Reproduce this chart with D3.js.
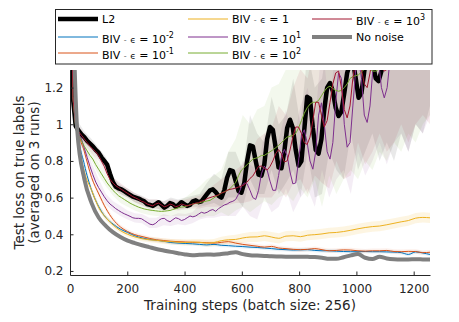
<!DOCTYPE html>
<html><head><meta charset="utf-8">
<script src="https://cdn.jsdelivr.net/npm/d3@7"></script>
<style>body{margin:0;background:#fff}svg{display:block;font-family:"DejaVu Sans",sans-serif}</style>
</head><body><svg id="c" width="459" height="322"></svg>
<script>
// ---------------- data ----------------
const xMax = 1257;                       // last training step shown
const stepsFine = d3.range(127).map(i => i * xMax / 126);    // ~10-step grid
const stepsCoarse = d3.range(51).map(i => i * xMax / 50);    // ~25-step grid

const yTicks = [0.2, 0.4, 0.6, 0.8, 1, 1.2];
const xTicks = [0, 200, 400, 600, 800, 1000, 1200];

// oscillating series (fine grid)
const l2 = [2.30,1.15,0.99,0.965,0.945,0.93,0.91,0.895,0.88,0.86,
 0.845,0.82,0.80,0.78,0.73,0.685,0.66,0.65,0.645,0.635,
 0.625,0.615,0.605,0.60,0.595,0.587,0.58,0.565,0.56,0.555,
 0.565,0.575,0.56,0.545,0.555,0.57,0.565,0.55,0.56,0.575,
 0.565,0.555,0.56,0.58,0.585,0.575,0.58,0.60,0.62,0.64,
 0.645,0.63,0.61,0.60,0.64,0.71,0.75,0.745,0.69,0.635,
 0.627,0.68,0.80,0.885,0.88,0.80,0.725,0.72,0.78,0.92,
 0.985,0.97,0.87,0.765,0.76,0.85,0.98,1.025,0.98,0.86,
 0.775,0.80,0.97,1.15,1.14,0.98,0.86,0.84,0.92,1.08,
 1.20,1.225,1.18,1.09,1.045,1.07,1.17,1.28,1.33,1.35,
 1.25,1.145,1.17,1.29,1.38,1.40,1.33,1.25,1.235,1.29,
 1.40,1.48,1.45,1.38,1.35,1.40,1.50,1.55,1.50,1.42,
 1.40,1.45,1.55,1.60,1.55,1.48,1.45];
const biv1e3 = [2.30,1.15,0.99,0.96,0.94,0.92,0.90,0.88,0.865,0.85,
 0.83,0.80,0.77,0.73,0.70,0.68,0.665,0.655,0.645,0.635,
 0.625,0.615,0.605,0.598,0.59,0.58,0.575,0.565,0.56,0.555,
 0.565,0.57,0.56,0.55,0.555,0.565,0.56,0.55,0.555,0.565,
 0.56,0.555,0.56,0.565,0.57,0.572,0.58,0.585,0.595,0.60,
 0.605,0.61,0.615,0.625,0.63,0.64,0.645,0.648,0.652,0.658,
 0.663,0.67,0.685,0.705,0.718,0.745,0.77,0.772,0.76,0.75,
 0.77,0.80,0.84,0.862,0.84,0.795,0.80,0.86,0.93,0.985,
 0.985,0.95,0.90,0.89,0.93,1.02,1.12,1.12,1.05,0.985,
 1.02,1.12,1.22,1.28,1.29,1.20,1.08,1.035,1.10,1.25,
 1.35,1.36,1.30,1.22,1.20,1.28,1.38,1.42,1.38,1.32,
 1.29,1.30,1.40,1.50,1.52,1.50,1.55,1.58,1.55,1.55,
 1.58,1.60,1.58,1.55,1.58,1.60,1.60];
const biv1e2 = [2.30,1.15,0.98,0.94,0.91,0.88,0.855,0.83,0.81,0.78,
 0.755,0.73,0.705,0.68,0.66,0.64,0.625,0.61,0.60,0.59,
 0.58,0.57,0.562,0.555,0.548,0.543,0.538,0.535,0.532,0.53,
 0.528,0.526,0.525,0.526,0.528,0.53,0.535,0.54,0.545,0.548,
 0.55,0.555,0.56,0.565,0.568,0.57,0.575,0.578,0.582,0.585,
 0.595,0.605,0.615,0.625,0.632,0.638,0.65,0.665,0.683,0.72,
 0.75,0.765,0.78,0.795,0.81,0.815,0.82,0.83,0.83,0.84,
 0.85,0.86,0.872,0.885,0.90,0.915,0.93,0.935,0.94,0.95,
 0.98,1.02,1.06,1.09,1.11,1.12,1.12,1.13,1.155,1.18,
 1.20,1.208,1.195,1.185,1.18,1.185,1.20,1.22,1.25,1.26,
 1.265,1.27,1.285,1.30,1.31,1.30,1.29,1.29,1.30,1.32,
 1.36,1.40,1.42,1.45,1.45,1.48,1.50,1.50,1.52,1.55,
 1.55,1.56,1.58,1.58,1.60,1.60,1.60];
const biv1e1 = [2.30,1.15,0.99,0.95,0.92,0.87,0.82,0.77,0.725,0.685,
 0.655,0.63,0.605,0.583,0.565,0.553,0.54,0.53,0.52,0.512,
 0.505,0.498,0.49,0.487,0.487,0.485,0.475,0.465,0.455,0.452,
 0.46,0.475,0.485,0.487,0.475,0.468,0.48,0.49,0.485,0.475,
 0.48,0.49,0.50,0.495,0.50,0.51,0.52,0.515,0.52,0.53,
 0.535,0.525,0.54,0.55,0.56,0.565,0.575,0.58,0.59,0.62,
 0.66,0.68,0.675,0.64,0.60,0.59,0.64,0.73,0.772,0.75,
 0.69,0.64,0.64,0.72,0.82,0.863,0.83,0.74,0.675,0.68,
 0.80,0.94,0.97,0.90,0.80,0.755,0.85,1.05,1.117,1.00,
 0.85,0.81,0.90,1.12,1.28,1.25,1.00,0.875,0.90,1.10,
 1.30,1.36,1.25,1.05,1.01,1.10,1.30,1.40,1.35,1.20,
 1.144,1.20,1.35,1.45,1.45,1.40,1.45,1.55,1.55,1.50,
 1.50,1.55,1.60,1.60,1.58,1.60,1.60];

// band limits of the oscillating series (coarse grid)
const l2Low = [2.2,0.95,0.9,0.86,0.81,0.75,0.65,0.62,0.6,0.575,0.56,0.54,0.54,0.53,0.54,0.535,0.54,0.55,0.55,0.56,
 0.57,0.55,0.6,0.6,0.55,0.7,0.62,0.62,0.75,0.62,0.68,0.75,0.6,0.85,0.6,0.62,0.85,0.75,0.7,0.95,
 0.75,0.85,0.95,0.8,0.9,0.8,0.95,0.85,1.0,0.95,1.1];
const l2High = [2.4,1.02,0.96,0.92,0.87,0.82,0.71,0.67,0.65,0.625,0.61,0.59,0.59,0.58,0.6,0.59,0.6,0.61,0.62,0.68,
 0.73,0.7,0.85,0.85,0.75,1.05,0.95,0.9,1.15,1.0,1.05,1.25,1.0,1.4,1.2,1.25,1.5,1.4,1.45,1.6,
 1.5,1.6,1.7,1.65,1.7,1.7,1.8,1.8,1.9,1.9,1.9];
const e3Low = [2.2,0.94,0.89,0.84,0.8,0.72,0.65,0.62,0.6,0.575,0.555,0.54,0.54,0.53,0.535,0.53,0.535,0.54,0.54,0.55,
 0.55,0.55,0.56,0.57,0.57,0.58,0.6,0.6,0.6,0.65,0.6,0.68,0.7,0.62,0.72,0.68,0.65,0.8,0.7,0.72,
 0.9,0.78,0.85,0.95,0.85,0.9,1.0,0.9,1.0,1.05,1.0];
const e3High = [2.4,1.0,0.95,0.9,0.86,0.78,0.71,0.68,0.65,0.625,0.605,0.59,0.59,0.58,0.59,0.585,0.59,0.6,0.61,0.64,
 0.67,0.7,0.73,0.75,0.78,0.84,0.92,0.95,0.98,1.1,1.05,1.2,1.3,1.25,1.45,1.4,1.45,1.6,1.55,1.6,
 1.7,1.7,1.75,1.8,1.8,1.85,1.9,1.9,1.9,1.95,1.95];
const e2Low = [2.2,0.93,0.85,0.8,0.72,0.66,0.61,0.57,0.55,0.53,0.515,0.505,0.5,0.5,0.5,0.5,0.5,0.5,0.49,0.5,
 0.5,0.52,0.5,0.53,0.55,0.52,0.55,0.58,0.56,0.6,0.62,0.58,0.65,0.6,0.7,0.55,0.72,0.62,0.7,0.75,
 0.7,0.8,0.75,0.85,0.8,0.9,0.85,0.95,0.9,1.0,1.05];
const e2High = [2.4,0.99,0.91,0.86,0.79,0.72,0.67,0.63,0.61,0.59,0.575,0.565,0.56,0.555,0.56,0.58,0.6,0.63,0.66,0.7,
 0.72,0.75,0.85,0.92,1.05,1.0,1.08,1.1,1.2,1.22,1.3,1.35,1.4,1.45,1.5,1.5,1.55,1.55,1.6,1.6,
 1.6,1.7,1.7,1.75,1.75,1.8,1.8,1.85,1.85,1.9,1.9];
const e1Low = [2.2,0.93,0.84,0.73,0.64,0.56,0.525,0.5,0.48,0.465,0.46,0.435,0.435,0.45,0.445,0.455,0.45,0.46,0.48,0.49,
 0.49,0.5,0.5,0.5,0.55,0.5,0.48,0.6,0.52,0.55,0.65,0.52,0.6,0.65,0.55,0.75,0.6,0.7,0.75,0.62,
 0.85,0.72,0.8,0.9,0.78,0.9,0.95,0.85,1.0,0.95,1.05];
const e1High = [2.4,1.0,0.9,0.79,0.7,0.62,0.58,0.555,0.53,0.515,0.51,0.49,0.49,0.51,0.5,0.515,0.51,0.52,0.56,0.58,
 0.6,0.62,0.66,0.7,0.8,0.78,0.75,0.95,0.88,0.92,1.08,0.9,1.1,1.2,1.0,1.45,1.1,1.45,1.55,1.25,
 1.7,1.4,1.6,1.75,1.5,1.8,1.85,1.8,1.9,1.9,1.95];

// smooth series (coarse grid)
const noNoise = [2.30,0.97,0.70,0.57,0.49,0.445,0.41,0.385,0.365,0.352,
 0.34,0.33,0.32,0.312,0.304,0.297,0.29,0.286,0.288,0.29,
 0.289,0.292,0.297,0.302,0.292,0.286,0.284,0.282,0.28,0.279,
 0.278,0.278,0.278,0.277,0.276,0.272,0.266,0.266,0.275,0.285,
 0.292,0.272,0.265,0.278,0.268,0.264,0.263,0.263,0.264,0.263,0.262];
const biv1em2 = [2.30,0.99,0.78,0.64,0.55,0.49,0.455,0.428,0.41,0.392,
 0.38,0.372,0.368,0.362,0.355,0.352,0.35,0.348,0.345,0.342,
 0.345,0.34,0.338,0.335,0.333,0.33,0.328,0.325,0.322,0.318,
 0.316,0.314,0.315,0.316,0.312,0.31,0.31,0.308,0.306,0.305,
 0.305,0.306,0.305,0.305,0.304,0.303,0.30,0.29,0.304,0.298,0.29];
const biv1em1 = [2.30,1.00,0.85,0.71,0.62,0.54,0.48,0.44,0.415,0.398,
 0.388,0.378,0.37,0.366,0.362,0.36,0.358,0.356,0.356,0.354,
 0.352,0.356,0.36,0.352,0.345,0.34,0.335,0.33,0.334,0.325,
 0.322,0.318,0.316,0.318,0.322,0.316,0.31,0.312,0.315,0.314,
 0.31,0.308,0.31,0.31,0.312,0.306,0.305,0.307,0.306,0.30,0.302];
const biv1 = [2.30,0.95,0.74,0.64,0.545,0.49,0.45,0.42,0.40,0.386,
 0.376,0.37,0.367,0.362,0.36,0.357,0.355,0.358,0.356,0.352,
 0.355,0.365,0.37,0.372,0.38,0.385,0.386,0.392,0.385,0.378,
 0.39,0.392,0.387,0.395,0.398,0.402,0.408,0.41,0.415,0.422,
 0.43,0.437,0.442,0.445,0.452,0.46,0.468,0.475,0.488,0.492,0.49];
const noNoiseStd = [0.05,0.02,0.015,0.012,0.01,0.009,0.008,0.008,0.007,0.007,
 0.007,0.007,0.007,0.007,0.007,0.007,0.007,0.007,0.007,0.007,
 0.007,0.007,0.007,0.007,0.007,0.007,0.007,0.007,0.007,0.007,
 0.007,0.007,0.007,0.007,0.007,0.007,0.007,0.007,0.007,0.007,
 0.007,0.007,0.007,0.007,0.007,0.007,0.007,0.007,0.007,0.007,0.007];
const em2Std = [0.05,0.02,0.018,0.015,0.013,0.012,0.011,0.01,0.01,0.01,
 0.01,0.01,0.01,0.01,0.01,0.01,0.01,0.01,0.01,0.01,
 0.01,0.01,0.01,0.01,0.01,0.01,0.01,0.01,0.01,0.01,
 0.01,0.01,0.01,0.01,0.01,0.01,0.01,0.01,0.01,0.01,
 0.01,0.01,0.01,0.01,0.01,0.01,0.01,0.01,0.01,0.01,0.01];
const em1Std = [0.05,0.02,0.02,0.018,0.016,0.014,0.013,0.012,0.012,0.012,
 0.012,0.012,0.012,0.012,0.012,0.012,0.012,0.012,0.012,0.012,
 0.012,0.012,0.012,0.012,0.012,0.012,0.012,0.012,0.012,0.012,
 0.012,0.012,0.012,0.012,0.012,0.012,0.012,0.012,0.012,0.012,
 0.012,0.012,0.012,0.012,0.012,0.012,0.012,0.012,0.012,0.012,0.012];
const e0Std = [0.05,0.02,0.02,0.018,0.016,0.015,0.014,0.014,0.014,0.014,
 0.014,0.014,0.015,0.015,0.015,0.016,0.016,0.017,0.018,0.02,
 0.02,0.022,0.024,0.025,0.026,0.027,0.028,0.028,0.028,0.028,
 0.028,0.028,0.028,0.028,0.028,0.028,0.028,0.028,0.028,0.028,
 0.028,0.028,0.028,0.028,0.028,0.028,0.028,0.028,0.028,0.028,0.028];

const seriesNames = ["L2","BIV - ϵ = 10^-2","BIV - ϵ = 10^-1","BIV - ϵ = 1","BIV - ϵ = 10^1","BIV - ϵ = 10^2","BIV - ϵ = 10^3","No noise"];
const seriesColors = ["#000000","#0072BD","#D95319","#EDB120","#7E2F8E","#77AC30","#A2142F","#808080"];
const seriesWidths = [4.5,1,1,1,1,1,1,4];

const series = [
  {name:seriesNames[0], xs:stepsFine, ys:l2, bx:stepsCoarse, lo:l2Low, hi:l2High},
  {name:seriesNames[1], xs:stepsCoarse, ys:biv1em2, bx:stepsCoarse, lo:biv1em2.map((v,i)=>v-em2Std[i]), hi:biv1em2.map((v,i)=>v+em2Std[i])},
  {name:seriesNames[2], xs:stepsCoarse, ys:biv1em1, bx:stepsCoarse, lo:biv1em1.map((v,i)=>v-em1Std[i]), hi:biv1em1.map((v,i)=>v+em1Std[i])},
  {name:seriesNames[3], xs:stepsCoarse, ys:biv1, bx:stepsCoarse, lo:biv1.map((v,i)=>v-e0Std[i]), hi:biv1.map((v,i)=>v+e0Std[i])},
  {name:seriesNames[4], xs:stepsFine, ys:biv1e1, bx:stepsCoarse, lo:e1Low, hi:e1High},
  {name:seriesNames[5], xs:stepsFine, ys:biv1e2, bx:stepsCoarse, lo:e2Low, hi:e2High},
  {name:seriesNames[6], xs:stepsFine, ys:biv1e3, bx:stepsCoarse, lo:e3Low, hi:e3High},
  {name:seriesNames[7], xs:stepsCoarse, ys:noNoise, bx:stepsCoarse, lo:noNoise.map((v,i)=>v-noNoiseStd[i]), hi:noNoise.map((v,i)=>v+noNoiseStd[i])}
];
series.forEach((s,i)=>{s.color=seriesColors[i]; s.width=seriesWidths[i];});

// ---------------- drawing ----------------
const svg = d3.select("#c");
const axisColor = "#262626";
const x = d3.scaleLinear().domain([0, xMax]).range([70, 430]);
const y = d3.scaleLinear().domain([0.178, 1.296]).range([275, 70]);

svg.append("defs").append("clipPath").attr("id","clip")
  .append("rect").attr("x",70).attr("y",70).attr("width",360).attr("height",205);
const plot = svg.append("g").attr("clip-path","url(#clip)");

const area = d3.area().x(d=>x(d[0])).y0(d=>y(d[1])).y1(d=>y(d[2]));
const line = d3.line().x(d=>x(d[0])).y(d=>y(d[1]));

series.forEach(s=>{
  plot.append("path")
    .attr("d", area(s.bx.map((t,i)=>[t,s.lo[i],s.hi[i]])))
    .attr("fill", s.color).attr("fill-opacity", s.color==="#EDB120"?0.13:0.085).attr("stroke","none");
});
series.forEach(s=>{
  const lg = s.xs.length>60 ? line.curve(d3.curveLinear) : line.curve(d3.curveMonotoneX);
  plot.append("path")
    .attr("d", lg(s.xs.map((t,i)=>[t,s.ys[i]])))
    .attr("fill","none").attr("stroke", s.color).attr("stroke-width", s.width)
    .attr("stroke-linejoin","round").attr("stroke-linecap","round");
});

// axes
const yAxis = d3.axisLeft(y).tickValues(yTicks).tickSize(-3.5).tickSizeOuter(0).tickPadding(6.5)
  .tickFormat(d=>String(+d.toFixed(1)));
const xAxis = d3.axisBottom(x).tickValues(xTicks).tickSize(-3.5).tickSizeOuter(0).tickPadding(9)
  .tickFormat(d=>String(d));
const gy = svg.append("g").attr("transform","translate(70,0)").call(yAxis);
const gx = svg.append("g").attr("transform","translate(0,275)").call(xAxis);
[gx,gy].forEach(g=>{
  g.selectAll("path,line").attr("stroke",axisColor);
  g.selectAll("text").attr("fill",axisColor).style("font-size","12px").style("font-family","DejaVu Sans");
});

svg.append("text").attr("x",250).attr("y",309.5).attr("text-anchor","middle")
  .attr("fill",axisColor).style("font-size","13.5px").text("Training steps (batch size: 256)");
const yl = svg.append("g").attr("transform","translate(0,172.5) rotate(-90)");
yl.append("text").attr("x",0).attr("y",24).attr("text-anchor","middle").attr("fill",axisColor)
  .style("font-size","13.5px").text("Test loss on true labels");
yl.append("text").attr("x",0).attr("y",38.5).attr("text-anchor","middle").attr("fill",axisColor)
  .style("font-size","13.5px").text("(averaged on 3 runs)");

// legend
const lg = svg.append("g");
lg.append("rect").attr("x",55.5).attr("y",9.5).attr("width",376.5).attr("height",54.5)
  .attr("fill","#fff").attr("stroke",axisColor).attr("stroke-width",1);
const colX = [58, 188, 312];
const rowY = [19, 37, 53];
series.forEach((s,i)=>{
  const c = Math.floor(i/3), r = i%3;
  const x0 = colX[c], yy = rowY[r];
  lg.append("line").attr("x1",x0).attr("x2",x0+40).attr("y1",yy).attr("y2",yy)
    .attr("stroke",s.color).attr("stroke-width",s.width);
  const parts = s.name.split("^");
  const t = lg.append("text").attr("x",x0+44).attr("y",yy+(parts.length>1?6:4))
    .attr("fill","#000").style("font-size","11px");
  if (s.name.startsWith("BIV")) {
    const rest = parts[0].replace("BIV - ϵ ","");
    t.append("tspan").text("BIV ");
    t.append("tspan").attr("fill","#777").style("font-size","8px").text("-");
    t.append("tspan").text(" ");
    t.append("tspan").style("font-size","9px").text("ϵ");
    t.append("tspan").text(" " + rest);
    if (parts.length>1) t.append("tspan").attr("dy",-5).style("font-size","8px").text(parts[1]);
  } else {
    t.text(s.name);
  }
});
</script></body></html>
